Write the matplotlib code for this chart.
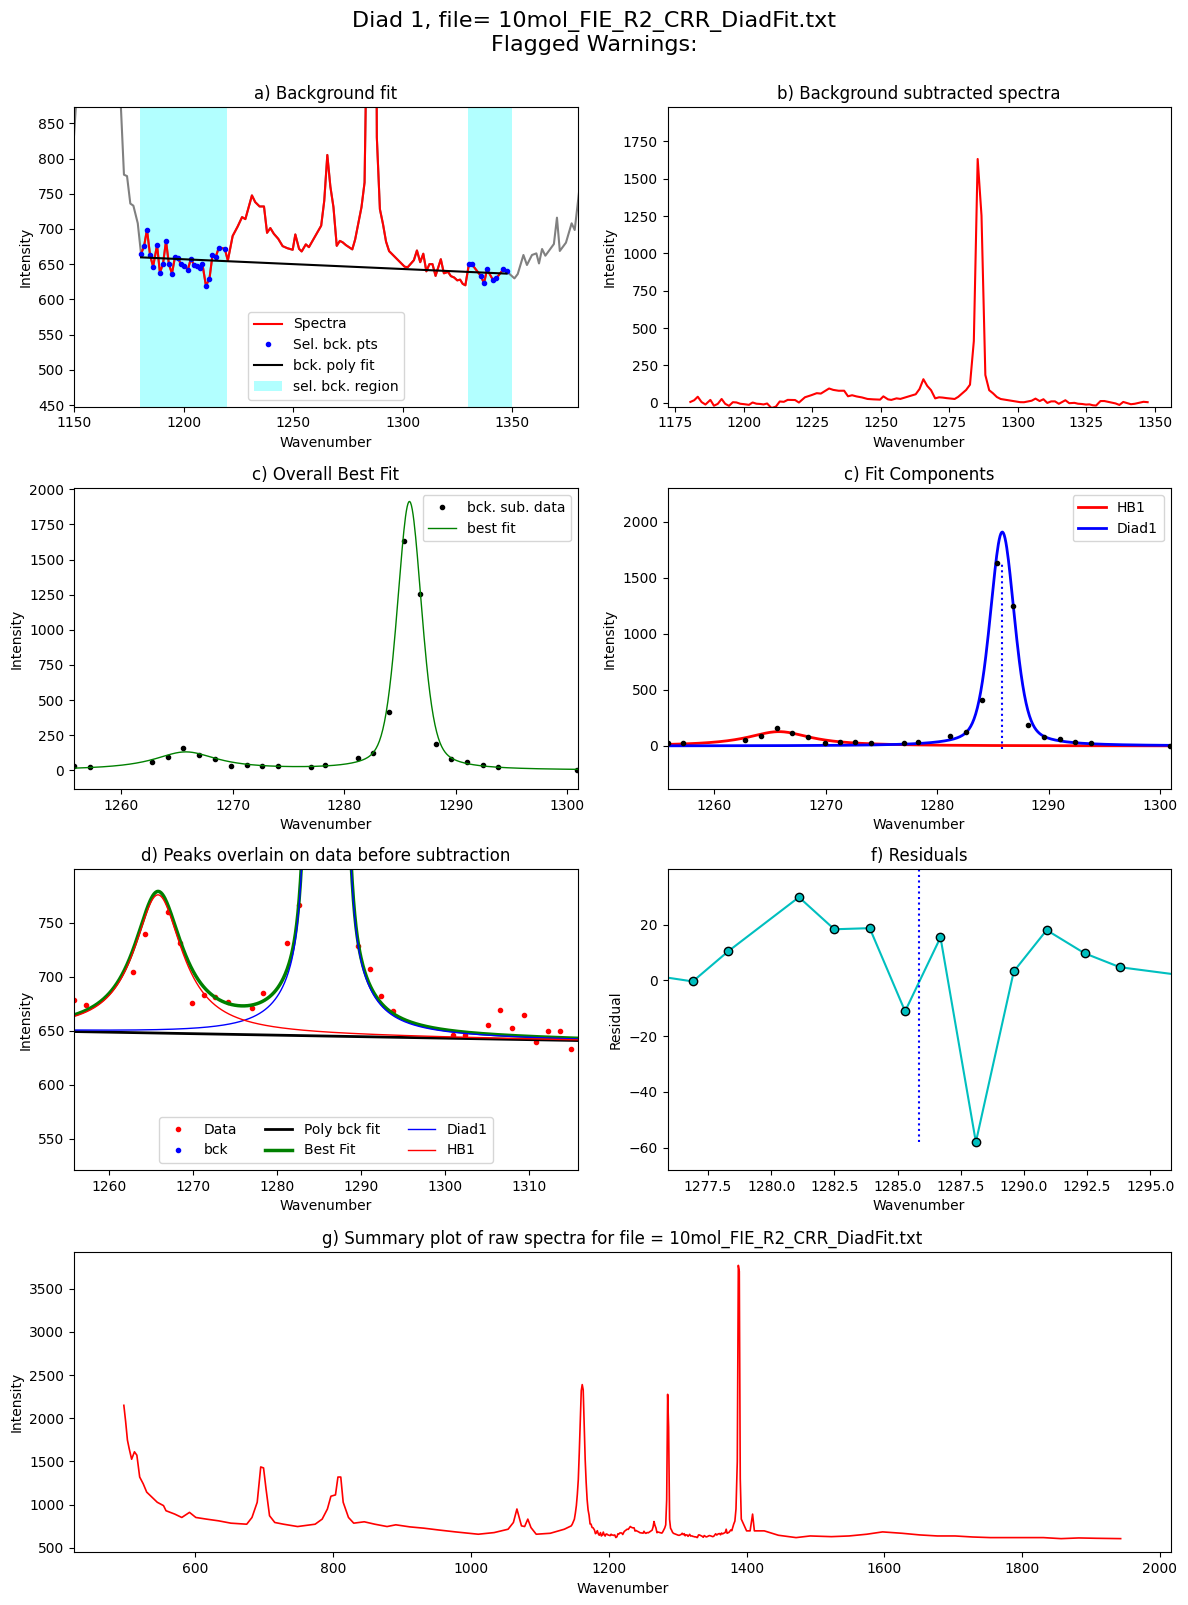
import numpy as np
import matplotlib
matplotlib.use("Agg")
import matplotlib.pyplot as plt

file_name = "10mol_FIE_R2_CRR_DiadFit.txt"

raw_x = [496.0, 498.6, 501.2, 503.7, 507.3, 511.4, 514.9, 519.0, 524.1, 529.2,
         536.8, 544.5, 553.6, 557.2, 569.9, 580.1, 591.3, 600.5, 615.8, 633.6,
         651.4, 674.4, 682.0, 689.6, 694.7, 698.8, 702.4, 707.5, 715.1, 727.8,
         748.2, 773.7, 783.9, 791.5, 796.6, 803.2, 806.8, 810.9, 814.4, 822.1,
         829.7, 845.0, 860.3, 878.1, 890.8, 911.2, 931.6, 952.0, 977.4, 997.8,
         1010.5, 1033.5, 1053.8, 1061.5, 1066.6, 1073.2, 1077.8, 1082.4, 1087.0, 1094.6,
         1115.0, 1135.4, 1145.5,
         1147.0, 1148.5, 1150.0, 1151.4, 1152.9, 1154.3, 1155.7, 1157.1, 1158.6, 1160.0,
         1161.4, 1162.8, 1164.2, 1165.7, 1167.1, 1168.5, 1169.9, 1171.3, 1172.8, 1174.2,
         1175.7, 1177.1, 1179.1,
         1180.6, 1182.0, 1183.3, 1184.7, 1186.1, 1187.9, 1189.2, 1190.6, 1192.0, 1193.3,
         1194.7, 1196.1, 1197.4, 1198.8, 1200.2, 1202.0, 1203.3, 1204.7, 1206.1, 1207.3,
         1208.6, 1210.2, 1211.8, 1213.2, 1214.7, 1216.1, 1218.8,
         1220.2, 1222.4, 1224.7, 1226.7, 1228.2, 1231.2, 1232.7, 1234.7, 1236.7, 1238.1,
         1239.6, 1241.2, 1243.2, 1245.2, 1247.3, 1249.8, 1251.0, 1252.7, 1253.9,
         1255.8, 1257.2, 1262.8, 1264.2, 1265.6, 1267.0, 1268.4, 1269.9, 1271.3, 1272.6,
         1274.1, 1277.0, 1278.3, 1281.2, 1282.6, 1284.0, 1285.4, 1286.8, 1288.2, 1289.6,
         1291.0, 1292.4, 1293.8, 1300.9, 1302.3, 1305.1, 1306.5, 1308.0, 1309.4, 1310.8,
         1312.2, 1313.6, 1315.0, 1317.4, 1318.8, 1320.7, 1322.0, 1323.5, 1324.9, 1326.2,
         1327.4, 1328.6,
         1330.2, 1331.6, 1335.7, 1337.1, 1338.5, 1341.3, 1342.7, 1345.9, 1347.4,
         1351.0, 1352.5, 1355.1, 1356.7, 1359.0, 1361.0, 1362.2, 1363.6, 1365.1, 1369.0,
         1370.4, 1371.7, 1374.5, 1377.1, 1378.5, 1379.9, 1381.3, 1383.0,
         1384.6, 1386.5, 1388.0, 1389.4, 1390.8, 1392.3, 1400.0, 1405.1, 1408.7, 1411.3,
         1425.6, 1446.2, 1471.8, 1492.3, 1523.1, 1548.7, 1574.4, 1597.4, 1625.6, 1651.3,
         1676.9, 1702.6, 1728.2, 1753.8, 1779.5, 1805.1, 1830.8, 1856.4, 1882.1, 1907.7,
         1943.0]
raw_y = [2150, 1963, 1748, 1651, 1526, 1612, 1573, 1320, 1242, 1145,
         1086, 1028, 989, 930, 891, 852, 911, 852, 833, 813,
         786, 774, 852, 1028, 1437, 1425, 1183, 872, 794, 774,
         747, 774, 833, 950, 1098, 1113, 1320, 1320, 1028, 852,
         786, 802, 774, 747, 767, 743, 728, 708, 685, 669,
         658, 677, 716, 794, 950, 755, 747, 833, 735, 658,
         669, 716, 755,
         775, 805, 832, 900, 990, 1120, 1290, 1600, 1980, 2320,
         2390, 2330, 1950, 1520, 1260, 1060, 940, 880, 777, 775,
         736, 733, 708,
         664.4, 675.8, 699.0, 663.0, 646.4, 677.2, 637.9, 650.2, 682.9, 650.2,
         636.5, 660.6, 658.8, 649.8, 646.9, 642.2, 657.8, 649.3, 647.4, 644.1,
         650.2, 619.5, 628.9, 663.0, 660.6, 673.4, 672.0,
         655.0, 690.0, 703.5, 716.8, 713.9, 747.6, 738.1, 731.9, 731.9, 694.5,
         701.2, 693.1, 686.0, 675.6, 672.7, 670.4, 692.2, 671.8, 668.0,
         678.1, 674.1, 704.6, 740.0, 805.0, 760.0, 731.0, 676.0, 683.0, 681.0,
         677.0, 671.0, 685.0, 731.0, 766.0, 1058.0, 2277.0, 1897.0, 830.0, 728.0,
         707.0, 682.0, 668.5, 646.3, 645.7, 655.6, 669.4, 652.8, 664.8, 639.8,
         650.0, 650.0, 633.3, 657.0, 637.0, 639.0, 633.0, 631.0, 627.0, 628.0,
         622.0, 620.0,
         649.7, 649.7, 633.1, 622.7, 642.6, 627.0, 629.8, 642.6, 639.8,
         629.8, 636.0, 663.0, 648.8, 663.0, 665.3, 651.0, 671.5, 662.0, 678.6,
         716.0, 668.7, 680.5, 708.0, 698.5, 736.4, 775.0, 810.0,
         950, 1500, 3770, 3700, 1300, 833, 697, 697, 891, 697,
         697, 646, 619, 638, 630, 638, 658, 685, 669, 650,
         638, 638, 626, 619, 619, 619, 619, 607, 615, 611,
         607]

# background regions and linear background (slope, intercept at 0)
bck_regions = [(1180, 1220), (1330, 1350)]
bck_coeffs = [-0.1384, 659.7 + 0.1384 * 1180.1]

# fitted peaks: centre, height, fwhm, lorentzian fraction
diad1_par = [1285.85, 1910.0, 2.6, 0.4]
hb1_par = [1265.8, 128.0, 7.0, 1.0]

# residuals (panel f)
res_x = [1274.1, 1276.9, 1278.3, 1281.1, 1282.5, 1283.9, 1285.3, 1286.7,
         1288.1, 1289.6, 1290.9, 1292.4, 1293.8, 1300.9]
res_y = [3.4, -0.4, 10.4, 29.8, 18.3, 18.7, -11.1, 15.4,
         -58.0, 3.2, 18.0, 9.7, 4.7, -3.7]

fit_window = (1255.8, 1300.95)


def pseudo_voigt(x, cen, height, fwhm, frac):
    hw = fwhm / 2
    lor = 1 / (1 + ((x - cen) / hw) ** 2)
    gau = np.exp(-np.log(2) * ((x - cen) / hw) ** 2)
    return height * (frac * lor + (1 - frac) * gau)


x = np.array(raw_x)
y = np.array(raw_y)
bck = np.polyval(bck_coeffs, x)
sel = np.zeros(len(x), bool)
for lo, hi in bck_regions:
    sel |= (x >= lo) & (x <= hi)
span = (x >= bck_regions[0][0]) & (x <= bck_regions[1][1])
y_sub = y - bck
in_win = (x >= fit_window[0] - 0.01) & (x <= fit_window[1])

fig = plt.figure(figsize=(11.88, 16.05), dpi=100)
fig.suptitle(f"Diad 1, file= {file_name}\nFlagged Warnings:", fontsize=16, y=0.993)

W, H = 1188, 1605


def rect(l, t, r, b):
    return [l / W, 1 - b / H, (r - l) / W, (b - t) / H]


ax_a = fig.add_axes(rect(74, 107.3, 578, 406.7))
ax_b = fig.add_axes(rect(667.5, 107.3, 1170.5, 406.7))
ax_c = fig.add_axes(rect(74, 488.3, 578, 789))
ax_c2 = fig.add_axes(rect(667.5, 488.3, 1170.5, 789))
ax_d = fig.add_axes(rect(74, 869.3, 578, 1170))
ax_f = fig.add_axes(rect(667.5, 869.3, 1170.5, 1170))
ax_g = fig.add_axes(rect(74, 1251.7, 1170.5, 1552.3))

# a) background fit
ax_a.plot(x, y, '-', color='grey')
ax_a.plot(x[span], y[span], '-r', label='Spectra')
ax_a.plot(x[sel], y[sel], '.b', label='Sel. bck. pts')
xb = x[sel]
ax_a.plot([xb.min(), xb.max()], np.polyval(bck_coeffs, [xb.min(), xb.max()]), '-k', label='bck. poly fit')
for i, (lo, hi) in enumerate(bck_regions):
    ax_a.axvspan(lo, hi, color='cyan', alpha=0.3, lw=0, label='sel. bck. region' if i == 0 else None)
ax_a.set_xlim(1150, 1380)
ax_a.set_ylim(447.6, 872.7)
ax_a.set_title("a) Background fit")
ax_a.set_xlabel("Wavenumber")
ax_a.set_ylabel("Intensity")
ax_a.legend(loc='lower center')

# b) background subtracted
ax_b.plot(x[span], y_sub[span], '-r')
ax_b.set_ylim(-27, 1978)
ax_b.set_title("b) Background subtracted spectra")
ax_b.set_xlabel("Wavenumber")
ax_b.set_ylabel("Intensity")

# c) overall best fit
xf = np.linspace(fit_window[0], fit_window[1], 600)
diad_f = pseudo_voigt(xf, *diad1_par)
hb_f = pseudo_voigt(xf, *hb1_par)
ax_c.plot(x[in_win], y_sub[in_win], '.k', label='bck. sub. data')
ax_c.plot(xf, diad_f + hb_f, '-g', lw=1, label='best fit')
ax_c.set_xlim(*fit_window)
ax_c.set_ylim(-133, 2007)
ax_c.set_title("c) Overall Best Fit")
ax_c.set_xlabel("Wavenumber")
ax_c.set_ylabel("Intensity")
ax_c.legend(loc='upper right')

# c) fit components
ax_c2.plot(xf, hb_f, '-r', lw=2, label='HB1')
ax_c2.plot(xf, diad_f, '-b', lw=2, label='Diad1')
ax_c2.plot(x[in_win], y_sub[in_win], '.k')
ax_c2.plot([diad1_par[0], diad1_par[0]], [-30, 1625], ':b')
ax_c2.set_xlim(*fit_window)
ax_c2.set_ylim(-384, 2300)
ax_c2.set_title("c) Fit Components")
ax_c2.set_xlabel("Wavenumber")
ax_c2.set_ylabel("Intensity")
ax_c2.legend(loc='upper right')

# d) peaks on data before subtraction
xd = np.linspace(1255.8, 1315.8, 800)
bck_d = np.polyval(bck_coeffs, xd)
diad_d = pseudo_voigt(xd, *diad1_par)
hb_d = pseudo_voigt(xd, *hb1_par)
ax_d.plot(x, y, '.r', label='Data')
ax_d.plot(x[sel], y[sel], '.b', label='bck')
ax_d.plot(xd, bck_d, '-k', lw=2, label='Poly bck fit')
ax_d.plot(xd, bck_d + diad_d + hb_d, '-g', lw=2.5, label='Best Fit')
ax_d.plot(xd, bck_d + diad_d, '-b', lw=1, label='Diad1')
ax_d.plot(xd, bck_d + hb_d, '-r', lw=1, label='HB1')
ax_d.set_xlim(1255.8, 1315.8)
ax_d.set_ylim(521, 799.5)
ax_d.set_title("d) Peaks overlain on data before subtraction")
ax_d.set_xlabel("Wavenumber")
ax_d.set_ylabel("Intensity")
ax_d.legend(loc='lower center', ncol=3)

# f) residuals
rmin, rmax = min(res_y), max(res_y)
ax_f.plot(res_x, res_y, '-c')
ax_f.plot(res_x, res_y, 'oc', mec='k')
ax_f.plot([diad1_par[0], diad1_par[0]], [rmin, rmax + 10], ':b')
ax_f.set_xlim(1275.9, 1295.8)
ax_f.set_ylim(rmin - 10, rmax + 10)
ax_f.set_title("f) Residuals")
ax_f.set_xlabel("Wavenumber")
ax_f.set_ylabel("Residual")

# g) summary of raw spectrum
ax_g.plot(x, y, '-r', lw=1.2)
ax_g.set_title(f"g) Summary plot of raw spectra for file = {file_name}")
ax_g.set_xlabel("Wavenumber")
ax_g.set_ylabel("Intensity")

fig.savefig("out.png", dpi=100)
